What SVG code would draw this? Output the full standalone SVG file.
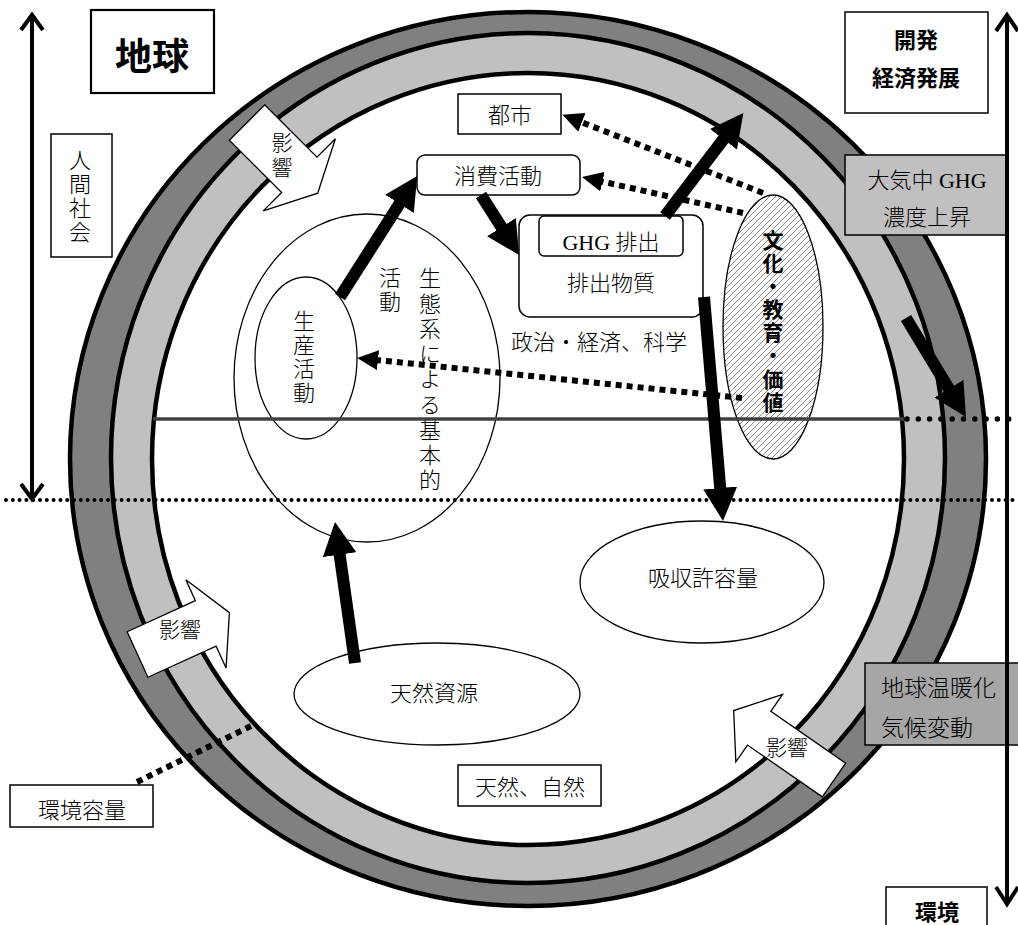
<svg xmlns="http://www.w3.org/2000/svg" width="1018" height="925" viewBox="0 0 1018 925">
<defs>
<style>
.t{font-family:"Liberation Serif","Noto Sans CJK JP",serif;font-size:22px;font-weight:300;fill:#000;dominant-baseline:central;text-anchor:middle}
.v{font-family:"Noto Sans CJK JP",sans-serif;font-size:22px;font-weight:300;fill:#000;writing-mode:vertical-rl;text-anchor:start;letter-spacing:2px}
.b{font-family:"Noto Sans CJK JP",sans-serif;font-weight:700}
.box{fill:#fff;stroke:#000;stroke-width:1.5}
.el{fill:#fff;stroke:#000;stroke-width:1.3}
.eff{fill:#fff;stroke:#000;stroke-width:1.3}
.blk{stroke:#000;stroke-width:12;fill:none}
.dot{stroke:#000;stroke-width:6;stroke-dasharray:6 5;fill:none}
.axis{stroke:#000;stroke-width:4;fill:none}
.chev{stroke:#000;stroke-width:4;fill:none;stroke-linejoin:miter;stroke-linecap:butt}
.ring{stroke:#000;stroke-width:4.5}
</style>
<marker id="ah" markerUnits="userSpaceOnUse" markerWidth="33" markerHeight="34" refX="1" refY="17" orient="auto" viewBox="0 0 33 34"><path d="M0,0 L33,17 L0,34 z" fill="#000"/></marker>
<marker id="dh" markerUnits="userSpaceOnUse" markerWidth="21" markerHeight="20" refX="1" refY="10" orient="auto" viewBox="0 0 21 20"><path d="M0,0 L21,10 L0,20 z" fill="#000"/></marker>
<pattern id="hatch" patternUnits="userSpaceOnUse" width="6" height="6"><path d="M0,6 L6,0 M-1.5,1.5 L1.5,-1.5 M4.5,7.5 L7.5,4.5" stroke="#777" stroke-width="0.9"/></pattern>
</defs>
<rect width="1018" height="925" fill="#fff"/>

<g id="earth-ring">
<ellipse class="ring" cx="528" cy="459" rx="458" ry="447" fill="#808080"/>
<ellipse class="ring" cx="528" cy="458" rx="417" ry="425" fill="#c0c0c0"/>
<ellipse class="ring" cx="528" cy="459" rx="376" ry="386" fill="#fff"/>
</g>

<g id="ecosystem">
<ellipse class="el" cx="367" cy="378" rx="133" ry="164" fill="none"/>
<text class="v" x="390" y="267">活動</text>
<text class="v" x="430" y="267" style="letter-spacing:3.25px">生態系による基本的</text>
</g>

<g id="production">
<ellipse class="el" cx="306" cy="358" rx="51" ry="81"/>
<text class="v" x="304" y="310">生産活動</text>
</g>

<g id="city">
<rect class="box" x="458" y="94" width="103" height="40"/>
<text class="t" x="510" y="115">都市</text>
</g>

<g id="consumption">
<rect class="box" x="417" y="155" width="163" height="40" rx="8"/>
<text class="t" x="498" y="176">消費活動</text>
</g>

<g id="emission">
<rect class="box" x="519" y="215" width="184" height="102" rx="11"/>
<rect class="box" x="539" y="216" width="144" height="40" rx="5"/>
<text class="t" x="611" y="242">GHG 排出</text>
<text class="t" x="611" y="283">排出物質</text>
</g>

<g id="politics">
<text class="t" x="599" y="342">政治・経済、科学</text>
</g>

<g id="culture">
<ellipse cx="773" cy="327" rx="50" ry="132" fill="#fff"/>
<ellipse cx="773" cy="327" rx="50" ry="132" fill="url(#hatch)" stroke="#000" stroke-width="1.3"/>
<text class="v b" x="773" y="229.5" style="font-size:21px;letter-spacing:2.1px">文化・教育・価値</text>
</g>

<g id="absorption">
<ellipse class="el" cx="702" cy="582" rx="122" ry="61"/>
<text class="t" x="703" y="578">吸収許容量</text>
</g>

<g id="resources">
<ellipse class="el" cx="437" cy="694" rx="143" ry="51"/>
<text class="t" x="434" y="693">天然資源</text>
</g>

<g id="nature">
<rect class="box" x="458" y="765" width="143" height="41"/>
<text class="t" x="530" y="787">天然、自然</text>
</g>

<g id="effect-1">
<polygon class="eff" transform="translate(247,122.5) rotate(45)" points="0,-25 74,-25 74,-51 100,0 74,51 74,25 0,25"/>
<text class="v" x="282" y="131.5" style="font-size:21px;letter-spacing:4px">影響</text>
</g>

<g id="effect-2">
<polygon class="eff" transform="translate(137.5,654.5) rotate(-24.5)" points="0,-25 75,-25 75,-48 101,0 75,49 75,25 0,25"/>
<text class="t" style="font-size:21px" x="180" y="630">影響</text>
</g>

<g id="effect-3">
<polygon class="eff" transform="translate(834,780) rotate(214.7)" points="0,-20.5 91,-20.5 91,-41 122,0 91,41 91,20.5 0,20.5"/>
<text class="t" style="font-size:21px" x="787" y="748">影響</text>
</g>

<g id="label-earth">
<rect x="91" y="10" width="123" height="83" fill="#fff" stroke="#000" stroke-width="2.2"/>
<text class="t b" style="font-size:37px" x="152" y="54">地球</text>
</g>

<g id="label-society">
<rect class="box" x="51" y="134" width="61" height="123"/>
<text class="v" x="80" y="149">人間社会</text>
</g>

<g id="label-development">
<rect class="box" x="845" y="12" width="143" height="101"/>
<text class="t b" x="916" y="38">開発</text>
<text class="t b" x="916" y="76">経済発展</text>
</g>

<g id="label-ghg-rise">
<rect x="845" y="155" width="162" height="80" fill="#c0c0c0" stroke="#000" stroke-width="1.5"/>
<text class="t" x="927" y="180">大気中 GHG</text>
<text class="t" x="927" y="217">濃度上昇</text>
</g>

<g id="label-warming">
<rect x="865" y="663" width="158" height="82" fill="#a6a6a6" stroke="#000" stroke-width="1.5"/>
<text class="t" style="text-anchor:start;font-size:23px" x="881" y="688">地球温暖化</text>
<text class="t" style="text-anchor:start;font-size:23px" x="881" y="728">気候変動</text>
</g>

<g id="label-capacity">
<rect class="box" x="10" y="785" width="143" height="42"/>
<text class="t" x="82" y="810">環境容量</text>
</g>

<g id="label-environment">
<rect class="box" x="886" y="887" width="101" height="50"/>
<text class="t b" x="937" y="910">環境</text>
</g>

<g id="connectors">
<line x1="153" y1="419" x2="905" y2="419" stroke="#404040" stroke-width="3.5"/>
<line x1="907" y1="419" x2="1018" y2="419" stroke="#000" stroke-width="5.5" stroke-linecap="round" stroke-dasharray="0 11.3"/>
<line x1="6" y1="500" x2="1018" y2="500" stroke="#000" stroke-width="4" stroke-linecap="round" stroke-dasharray="0 6.8"/>

<path class="blk" d="M340,297 L400,203" marker-end="url(#ah)"/>
<path class="blk" d="M481,195 L502,228" marker-end="url(#ah)"/>
<path class="blk" d="M665,216 L724,138.5" marker-end="url(#ah)"/>
<path class="blk" d="M704,297 L720.3,489" marker-end="url(#ah)"/>
<path class="blk" d="M355,663 L339.5,553.7" marker-end="url(#ah)"/>
<path class="blk" d="M906,318 L949.4,389.6" marker-end="url(#ah)"/>

<path class="dot" d="M763,193 L581,122" marker-end="url(#dh)"/>
<path class="dot" d="M743,213 L601.5,181.4" marker-end="url(#dh)"/>
<path class="dot" d="M742,398 L377,360" marker-end="url(#dh)"/>
<path class="dot" d="M137,782 L255,724"/>

<line class="axis" x1="32" y1="16" x2="32" y2="497"/>
<polyline class="chev" points="21,30 32,15 43,30"/>
<polyline class="chev" points="21,484 32,499 43,484"/>
<line class="axis" x1="1007" y1="15" x2="1007" y2="903"/>
<polyline class="chev" points="996,31 1007,15 1018,31"/>
<polyline class="chev" points="996,887 1007,904 1018,887"/>
</g>
</svg>
